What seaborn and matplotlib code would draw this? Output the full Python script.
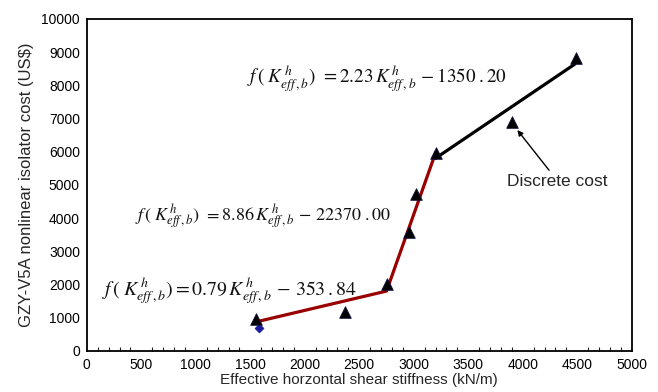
import matplotlib
matplotlib.use("Agg")
import matplotlib.pyplot as plt
import numpy as np
import pandas as pd
import seaborn as sns

# discrete isolator costs
stiffness = [1550, 2370, 2750, 2955, 3020, 3200, 3900, 4485]
cost = [950, 1160, 2000, 3580, 4720, 5960, 6880, 8820]

# single blue point
extra_x = [1578]
extra_y = [690]

# piecewise fit lines
red_x = [1550, 2750, 3200]
red_y = [870, 1800, 5960]
black_x = [3200, 4480]
black_y = [5800, 8640]

sns.set_style("white")
plt.rcParams['font.family'] = ['Liberation Sans', 'DejaVu Sans']
plt.rcParams['mathtext.fontset'] = 'stix'

fig = plt.figure(figsize=(6.58, 3.92), dpi=100)
ax = fig.add_axes([0.132, 0.105, 0.828, 0.847])

sns.lineplot(x=red_x, y=red_y, ax=ax, color='#990000', linewidth=2.3, sort=False)
sns.lineplot(x=black_x, y=black_y, ax=ax, color='black', linewidth=2.3, sort=False)
sns.scatterplot(x=extra_x, y=extra_y, ax=ax, marker='D', color='#1a1a9e', s=22,
                edgecolor='#1a1a9e', zorder=3)
sns.scatterplot(x=stiffness, y=cost, ax=ax, marker='^', color='black', s=70,
                edgecolor='#101040', linewidth=0.6, zorder=4)

ax.set_xlim(0, 5000)
ax.set_ylim(0, 10000)
ax.set_xticks(np.arange(0, 5001, 500))
ax.set_xticks(np.arange(0, 5001, 100), minor=True)
ax.set_yticks(np.arange(0, 10001, 1000))
ax.tick_params(axis='both', which='major', direction='in', length=4, width=1,
               labelsize=10, colors='black', pad=5)
ax.tick_params(axis='x', which='minor', direction='in', length=3, width=0.8,
               bottom=True)
ax.tick_params(top=False, right=False)
for sp in ax.spines.values():
    sp.set_color('black')
    sp.set_linewidth(1.3)

ax.set_xlabel('Effective horzontal shear stiffness (kN/m)', fontsize=11, labelpad=1)
ax.set_ylabel('GZY-V5A nonlinear isolator cost (US$)', fontsize=12, labelpad=5)

K = r'K^{\,h}_{eff\,,b}'
ax.text(1468, 8200, r'$f\,(\;' + K + r')\;\, = 2.23\,' + K + r'\,-1350\;.20$',
        fontsize=13.8, va='center', ha='left', color='#111111')
ax.text(440, 4030, r'$f\,(\;' + K + r')\;\, = 8.86\,' + K + r'\,-\,22370\;.00$',
        fontsize=13, va='center', ha='left', color='#111111')
ax.text(138, 1800, r'$f\,(\;' + K + r') = 0.79\,' + K + r'\,-\,353\,.84$',
        fontsize=14.3, va='center', ha='left', color='#111111')

ax.annotate('Discrete cost', xy=(3951, 6650), xytext=(4320, 5340),
            fontsize=12.5, ha='center', va='top',
            arrowprops=dict(arrowstyle='-|>', color='black', lw=1, mutation_scale=8,
                            shrinkA=0, shrinkB=0))

fig.savefig('out.png', dpi=100)
